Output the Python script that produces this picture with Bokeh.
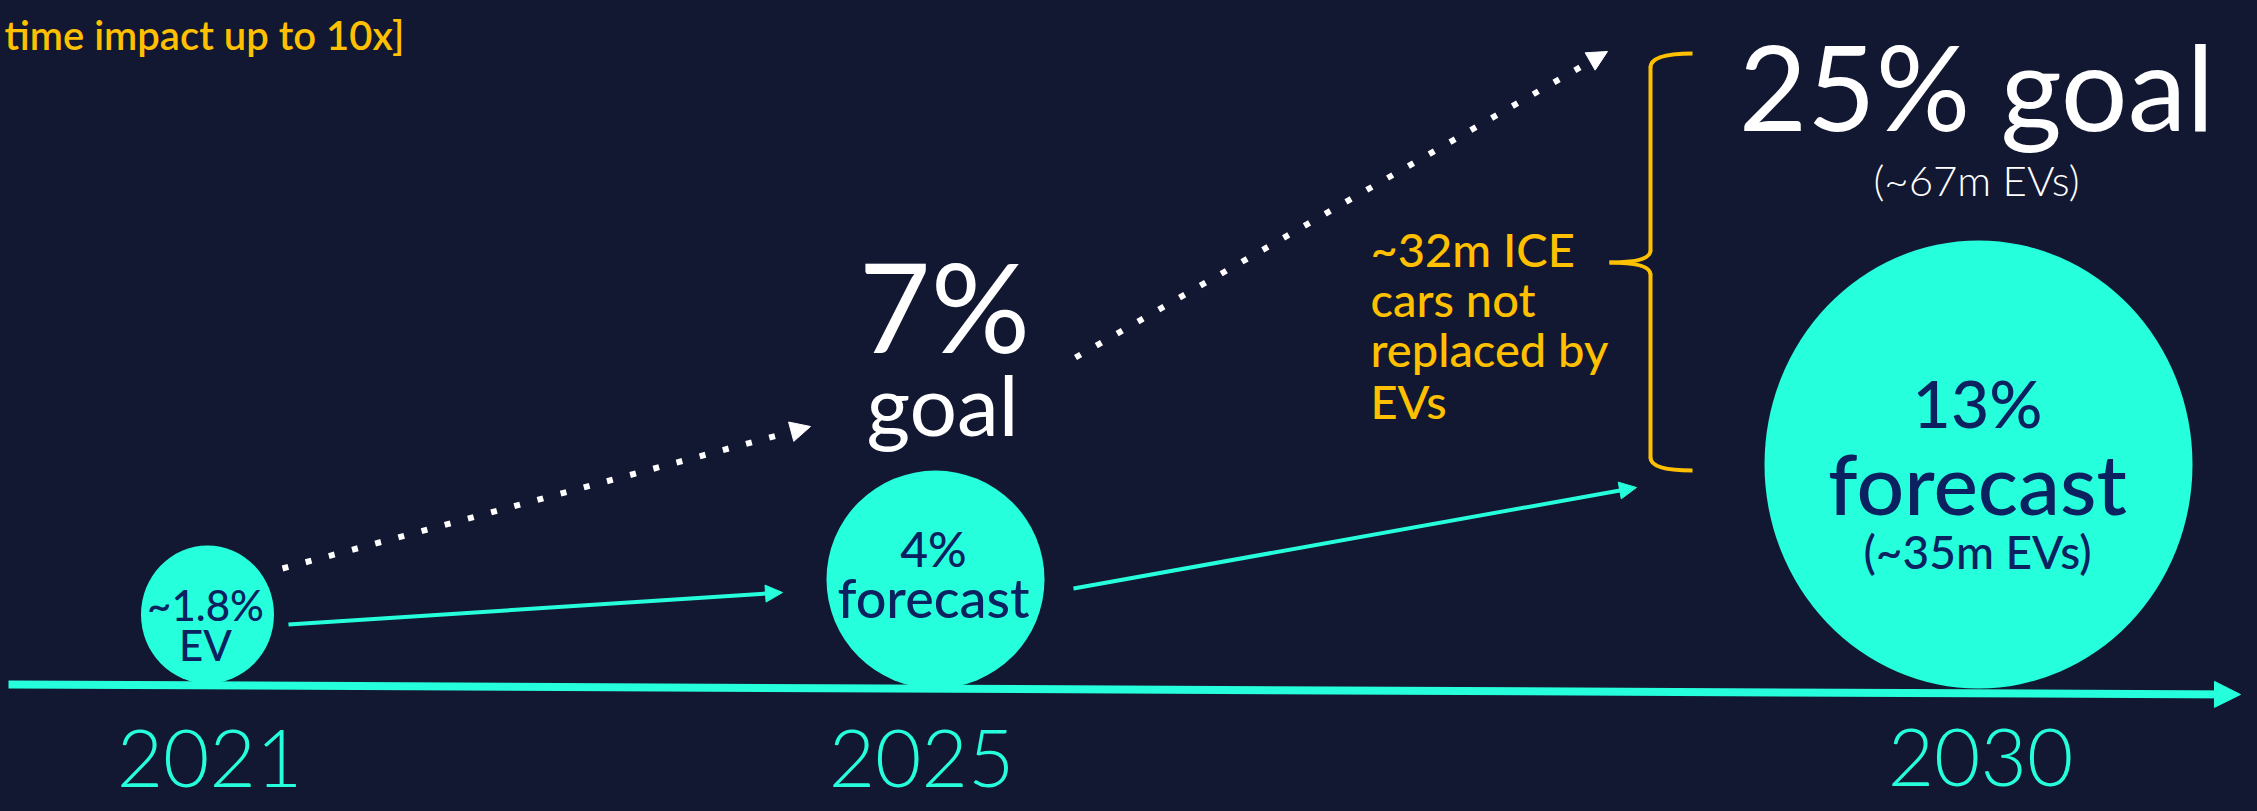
from bokeh.plotting import figure
from bokeh.models import Range1d, Arrow, NormalHead, ColumnDataSource
from bokeh.core.properties import value
from bokeh.embed import file_html
from bokeh.resources import INLINE

# ---------------- data ----------------
years = ["2021", "2025", "2030"]
forecast_share = ["~1.8%", "4%", "13%"]
forecast_word = ["EV", "forecast", "forecast"]
forecast_evs_2030 = "(~35m EVs)"
goal_share_2025 = "7%"
goal_word_2025 = "goal"
goal_2030 = "25% goal"
goal_evs_2030 = "(~67m EVs)"
gap_lines = ["~32m ICE", "cars not", "replaced by", "EVs"]
headline = "time impact up to 10x]"

# ---------------- styles / layout ----------------
BG = "#131832"
CYAN = "#26FFDB"
NAVY = "#0B2160"
GOLD = "#FFC000"
WHITE = "#FFFFFF"
K = 0.30  # baseline compensation (fraction of font size)

year_x = [209, 921, 1980]
year_base = [782, 782, 781]
bub_x = [207, 935, 1978]
bub_y = [614, 579, 464]
bub_w = [133, 218, 428]
bub_h = [138, 218, 448]

W, H = 2257, 811
p = figure(width=W, height=H, x_range=Range1d(0, W), y_range=Range1d(H, 0),
           output_backend="svg", toolbar_location=None, min_border=0,
           x_axis_type=None, y_axis_type=None,
           background_fill_color=BG, border_fill_color=BG, outline_line_color=None)
p.grid.visible = False


def txt(xs, bases, texts, font, size, color, align="center"):
    ys = [b - K * size for b in bases]
    p.text(x=xs, y=ys, text=texts, text_font=value(font), text_font_size="%dpx" % size,
           text_color=color, text_align=align, text_baseline="alphabetic")


# timeline axis
p.add_layout(Arrow(end=NormalHead(size=26, fill_color=CYAN, line_color=CYAN, line_width=1),
                   x_start=8, y_start=684, x_end=2240, y_end=694,
                   line_color=CYAN, line_width=8))

# bubbles
src = ColumnDataSource(dict(x=bub_x, y=bub_y, w=bub_w, h=bub_h))
p.ellipse(x="x", y="y", width="w", height="h", source=src,
          fill_color=CYAN, line_color=None)

# solid forecast arrows
for xs, ys, xe, ye in [(288, 624, 782, 592), (1073, 588, 1636, 487)]:
    p.add_layout(Arrow(end=NormalHead(size=17, fill_color=CYAN, line_color=CYAN, line_width=1),
                       x_start=xs, y_start=ys, x_end=xe, y_end=ye,
                       line_color=CYAN, line_width=4))

# dotted goal arrows
for xs, ys, xe, ye in [(282, 568, 810, 426), (1075, 357, 1607, 51)]:
    p.add_layout(Arrow(end=NormalHead(size=20, fill_color=WHITE, line_color=WHITE, line_width=1),
                       x_start=xs, y_start=ys, x_end=xe, y_end=ye,
                       line_color=WHITE, line_width=6, line_dash="6 18"))

# bracket
p.quadratic(x0=[1692, 1650, 1609, 1650], y0=[53, 250, 262, 457],
            x1=[1650, 1609, 1650, 1692], y1=[67, 262, 274, 470],
            cx=[1650, 1650, 1650, 1650], cy=[53, 262, 262, 470],
            line_color=GOLD, line_width=4)
p.segment(x0=[1650, 1650], y0=[66, 273], x1=[1650, 1650], y1=[251, 458],
          line_color=GOLD, line_width=4)

# headline
txt([4], [46], [headline], "Lato Semibold", 40, GOLD, "left")

# goal texts
txt([944], [342], [goal_share_2025], "Lato", 124, WHITE)
txt([942], [428], [goal_word_2025], "Lato", 84, WHITE)
txt([1976], [120], [goal_2030], "Lato", 118, WHITE)
txt([1976], [192], [goal_evs_2030], "Lato Light", 42, WHITE)

# gap note
txt([1370] * 4, [263, 313, 363, 415], gap_lines, "Lato Medium", 47, GOLD, "left")

# bubble texts
txt([205], [617], [forecast_share[0]], "Lato Medium", 42, NAVY)
txt([205], [657], [forecast_word[0]], "Lato Medium", 42, NAVY)
txt([933], [562], [forecast_share[1]], "Lato Medium", 48, NAVY)
txt([933], [613], [forecast_word[1]], "Lato Medium", 54, NAVY)
txt([1977], [422], [forecast_share[2]], "Lato Medium", 66, NAVY)
txt([1977], [507], [forecast_word[2]], "Lato Medium", 84, NAVY)
txt([1977], [565], [forecast_evs_2030], "Lato Medium", 46, NAVY)

# years
txt(year_x, year_base, years, "Lato Light", 80, CYAN)

html = file_html(p, INLINE)
html = html.replace("</head>",
                    "<style>html,body{margin:0;padding:0;overflow:hidden;"
                    "background-color:%s;}</style></head>" % BG, 1)
open("out.html", "w").write(html)
